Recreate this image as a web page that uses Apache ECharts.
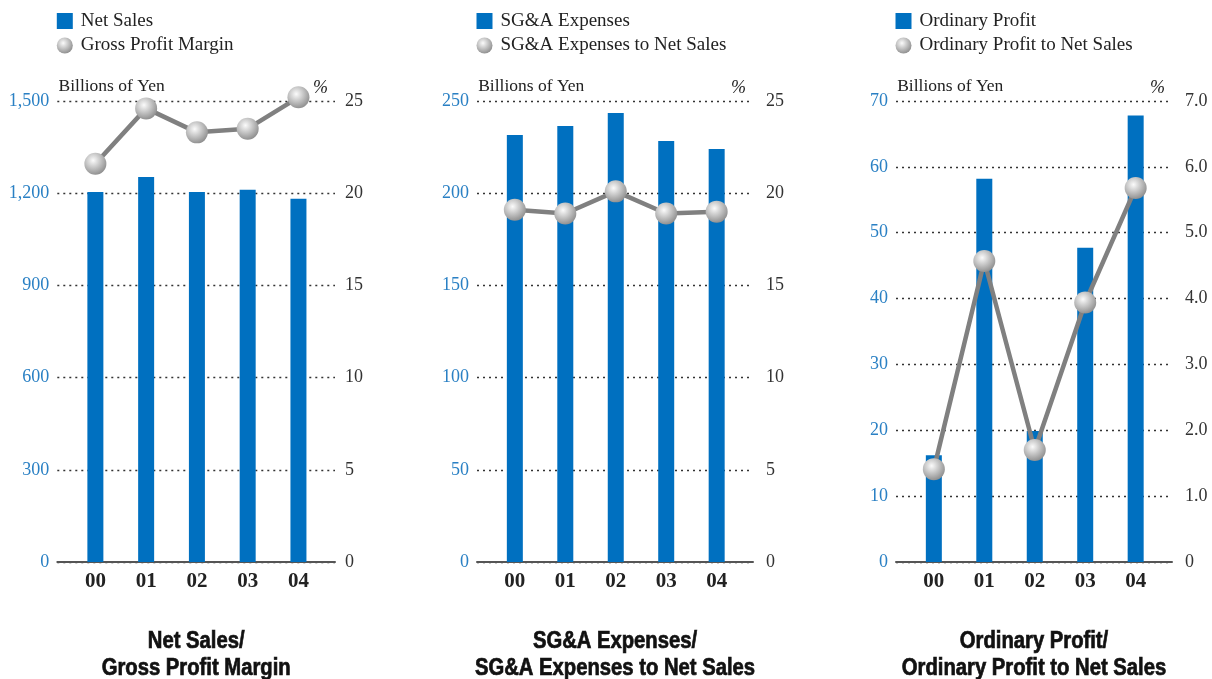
<!DOCTYPE html>
<html>
<head>
<meta charset="utf-8">
<script src="https://cdn.jsdelivr.net/npm/echarts@6/dist/echarts.min.js"></script>
<style>
html,body{margin:0;padding:0;background:#fff;}
#chart{width:1212px;height:679px;}
</style>
</head>
<body>
<div id="chart"></div>
<script>
// ---- data ----
const categories = ['00', '01', '02', '03', '04'];

const netSales = [1204, 1253, 1204, 1211, 1182];          // Billions of Yen
const grossProfitMargin = [21.6, 24.6, 23.3, 23.5, 25.2]; // %

const sgaExpenses = [231.6, 236.4, 243.5, 228.3, 224.0];  // Billions of Yen
const sgaToNetSales = [19.1, 18.9, 20.1, 18.9, 19.0];     // %

const ordinaryProfit = [16.2, 58.2, 19.9, 47.7, 67.8];    // Billions of Yen
const ordinaryToNetSales = [1.41, 4.57, 1.70, 3.94, 5.68]; // %

const barNames = ['Net Sales', 'SG&A Expenses', 'Ordinary Profit'];
const lineNames = ['Gross Profit Margin', 'SG&A Expenses to Net Sales', 'Ordinary Profit to Net Sales'];
const chartTitles = ['Net Sales/\nGross Profit Margin', 'SG&A Expenses/\nSG&A Expenses to Net Sales', 'Ordinary Profit/\nOrdinary Profit to Net Sales'];
const leftUnit = 'Billions of Yen';
const rightUnit = '%';

const leftAxisMax = [1500, 250, 70];
const leftAxisStep = [300, 50, 10];
const rightAxisMax = [25, 25, 7];
const rightAxisStep = [5, 5, 1];

const barData = [netSales, sgaExpenses, ordinaryProfit];
const lineData = [grossProfitMargin, sgaToNetSales, ordinaryToNetSales];

// ---- layout / style ----
const gridLeft = [57.3, 477, 896];
const gridWidth = [277.7, 276, 276];
const rightLabelMargin = [10, 13, 13];
const SERIF = "'Liberation Serif', 'DejaVu Serif', serif";
const SANS = "'Liberation Sans', Arial, sans-serif";
const BLUE = '#0070c0';
const LABEL_BLUE = '#2a80c4';

const chart = echarts.init(document.getElementById('chart'), null, {renderer: 'canvas'});

function sphere() {
  return new echarts.graphic.RadialGradient(0.4, 0.35, 0.7, [
    {offset: 0, color: '#fbfbfb'},
    {offset: 0.45, color: '#c8c8c8'},
    {offset: 1, color: '#8a8a8a'}
  ]);
}

const grids = [], xAxes = [], yAxes = [], series = [], legends = [], graphics = [];

for (let i = 0; i < 3; i++) {
  grids.push({left: gridLeft[i], width: gridWidth[i], top: 101, bottom: 117, containLabel: false});
  xAxes.push({
    type: 'value', gridIndex: i, min: -0.75, max: 4.72,
    axisLine: {show: true, onZero: false, lineStyle: {color: '#555', width: 2}},
    axisTick: {show: false},
    splitLine: {show: false},
    axisLabel: {
      customValues: [0, 1, 2, 3, 4],
      formatter: v => categories[Math.round(v)] || '',
      fontFamily: SERIF, fontWeight: 'bold', fontSize: 21, color: '#222', margin: 9
    }
  });
  yAxes.push({
    type: 'value', gridIndex: i, position: 'left',
    min: 0, max: leftAxisMax[i], interval: leftAxisStep[i],
    axisLine: {show: false}, axisTick: {show: false},
    axisLabel: {
      fontFamily: SERIF, fontSize: 18, color: LABEL_BLUE, margin: 8,
      formatter: v => v.toLocaleString('en-US')
    },
    splitLine: {show: true, lineStyle: {color: '#333', width: 1.3, type: [2, 4]}}
  });
  yAxes.push({
    type: 'value', gridIndex: i, position: 'right',
    min: 0, max: rightAxisMax[i], interval: rightAxisStep[i],
    name: rightUnit, nameLocation: 'end', nameGap: 4,
    nameMoveOverlap: false,
    nameTextStyle: {fontFamily: SERIF, fontStyle: 'italic', fontSize: 18, color: '#222', align: 'right', verticalAlign: 'bottom', padding: [0, 7, 0, 0]},
    axisLine: {show: false}, axisTick: {show: false},
    axisLabel: {
      fontFamily: SERIF, fontSize: 18, color: '#333', margin: rightLabelMargin[i],
      formatter: v => (i === 2 && v !== 0) ? v.toFixed(1) : String(v)
    },
    splitLine: {show: false}
  });
  series.push({
    name: barNames[i], type: 'bar', xAxisIndex: i, yAxisIndex: i * 2,
    barWidth: 16, itemStyle: {color: BLUE},
    data: barData[i].map((v, k) => [k, v]),
    z: 2
  });
  series.push({
    name: lineNames[i], type: 'line', xAxisIndex: i, yAxisIndex: i * 2 + 1,
    clip: false,
    lineStyle: {color: '#808080', width: 4.5},
    symbol: 'circle', symbolSize: 22,
    itemStyle: {color: sphere(), borderWidth: 0},
    data: lineData[i].map((v, k) => [k, v]),
    z: 3
  });
  legends.push({
    orient: 'vertical', left: gridLeft[i] - 0.5, top: 11.5, padding: 0,
    itemWidth: 16, itemHeight: 16, itemGap: 5.5,
    selectedMode: false,
    textStyle: {fontFamily: SERIF, fontSize: 19, color: '#222', padding: [0, 0, 0, 3]},
    data: [
      {name: barNames[i], icon: 'rect'},
      {name: lineNames[i], icon: 'circle'}
    ]
  });
  graphics.push({
    type: 'text',
    x: gridLeft[i] + 1.2, y: 95,
    style: {
      text: leftUnit, align: 'left', verticalAlign: 'bottom',
      fontFamily: SERIF, fontSize: 17.5, fill: '#222'
    }
  });
  graphics.push({
    type: 'text',
    x: gridLeft[i] + gridWidth[i] / 2, y: 628,
    scaleX: 0.88,
    style: {
      text: chartTitles[i], align: 'center', verticalAlign: 'top',
      fontFamily: SANS, fontWeight: 'bold', fontSize: 23, lineHeight: 27,
      fill: '#111', stroke: '#111', lineWidth: 0.7
    }
  });
}

chart.setOption({
  animation: false,
  backgroundColor: '#fff',
  grid: grids,
  xAxis: xAxes,
  yAxis: yAxes,
  legend: legends,
  series: series,
  graphic: graphics
});
</script>
</body>
</html>
